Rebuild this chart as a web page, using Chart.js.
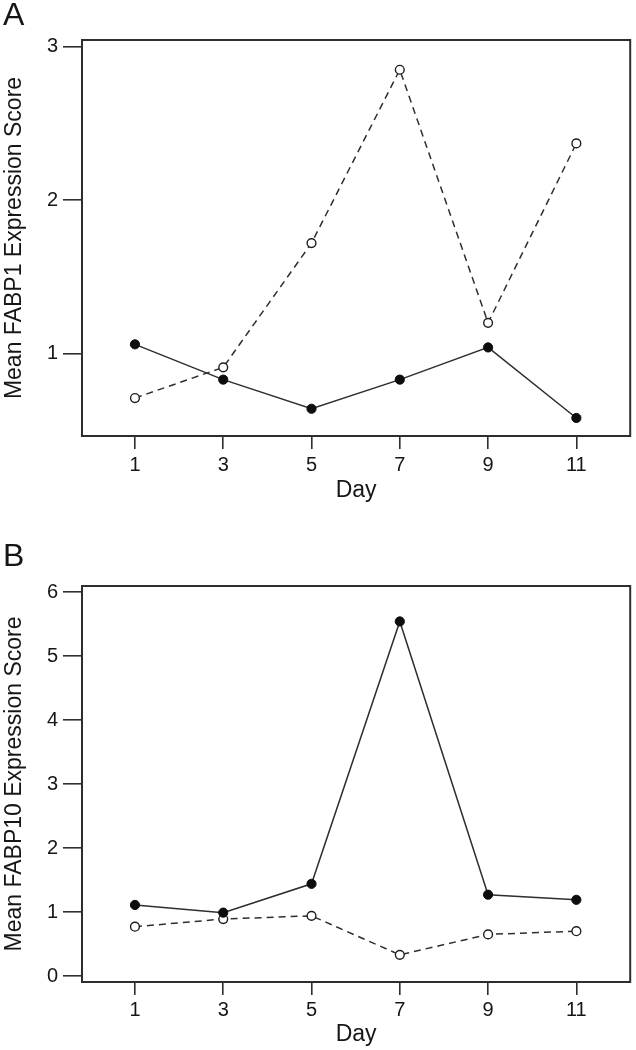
<!DOCTYPE html>
<html>
<head>
<meta charset="utf-8">
<script src="https://cdn.jsdelivr.net/npm/chart.js@4.4.1/dist/chart.umd.min.js"></script>
<style>
  body { margin: 0; background: #fff; }
  canvas { display: block; }
</style>
</head>
<body>
<canvas id="chartA" width="636" height="525"></canvas>
<canvas id="chartB" width="636" height="525"></canvas>
<script>
// Data
const days = [1, 3, 5, 7, 9, 11];
const fabp1Filled = [1.06, 0.83, 0.64, 0.83, 1.04, 0.58];
const fabp1Open = [0.71, 0.91, 1.72, 2.85, 1.20, 2.37];
const fabp10Filled = [1.11, 0.99, 1.44, 5.54, 1.27, 1.19];
const fabp10Open = [0.77, 0.89, 0.94, 0.33, 0.65, 0.70];
const yTicksA = [1, 2, 3];
const yTicksB = [0, 1, 2, 3, 4, 5, 6];

const FONT = "'Liberation Sans', Arial, sans-serif";
const INK = '#161616';
const LINE = '#2e2e2e';

// draws the box round the plot area (R style)
const boxPlugin = {
  id: 'box',
  beforeDatasetsDraw(chart) {
    const { ctx, chartArea: a } = chart;
    ctx.save();
    ctx.strokeStyle = LINE;
    ctx.lineWidth = 2;
    ctx.strokeRect(a.left, a.top, a.right - a.left, a.bottom - a.top);
    ctx.restore();
  }
};

const toPoints = (vals) => days.map((d, i) => ({ x: d, y: vals[i] }));

const makeChart = (id, cfg) => {
  const ctx = document.getElementById(id).getContext('2d');
  return new Chart(ctx, {
    type: 'line',
    data: {
      datasets: [{
        label: 'filled',
        data: toPoints(cfg.filled),
        borderColor: LINE,
        borderWidth: 1.5,
        pointRadius: 4.6,
        pointBackgroundColor: '#0d0d0d',
        pointBorderColor: '#0d0d0d',
        pointBorderWidth: 1,
        tension: 0
      }, {
        label: 'open',
        data: toPoints(cfg.open),
        borderColor: LINE,
        borderWidth: 1.5,
        borderDash: [7, 5],
        pointRadius: 4.4,
        pointBackgroundColor: '#fff',
        pointBorderColor: '#1e1e1e',
        pointBorderWidth: 1.4,
        tension: 0
      }]
    },
    options: {
      responsive: false,
      animation: false,
      devicePixelRatio: 1,
      layout: { padding: { left: 3, right: 2, top: 0, bottom: 0 } },
      plugins: {
        legend: { display: false },
        tooltip: { enabled: false },
        title: {
          display: true,
          text: cfg.letter,
          align: 'start',
          color: INK,
          font: { family: FONT, size: 32, weight: 'normal', lineHeight: 1 },
          padding: cfg.letterPad
        }
      },
      scales: {
        x: {
          type: 'linear',
          min: -0.2,
          max: 12.22,
          afterBuildTicks: (s) => { s.ticks = days.map(v => ({ value: v })); },
          afterFit: (s) => { s.height = cfg.xAxisHeight; },
          ticks: { color: INK, font: { family: FONT, size: 20 }, padding: cfg.xTickPad, maxRotation: 0, autoSkip: false },
          grid: { drawOnChartArea: false, drawTicks: true, tickLength: 13, color: LINE, lineWidth: 1.6 },
          border: { display: false },
          title: {
            display: true,
            text: 'Day',
            color: INK,
            font: { family: FONT, size: 23, lineHeight: 1 },
            padding: { top: 0, bottom: cfg.dayPad }
          }
        },
        y: {
          min: cfg.yMin,
          max: cfg.yMax,
          afterBuildTicks: (s) => { s.ticks = cfg.yTicks.map(v => ({ value: v })); },
          afterFit: (s) => { s.width = 79; },
          ticks: { color: INK, font: { family: FONT, size: 20 }, padding: 5 },
          grid: { drawOnChartArea: false, drawTicks: true, tickLength: 19, color: LINE, lineWidth: 1.6 },
          border: { display: false },
          title: {
            display: true,
            text: cfg.yLabel,
            color: INK,
            font: { family: FONT, size: 23, lineHeight: 1 },
            padding: 0
          }
        }
      }
    },
    plugins: [boxPlugin]
  });
};

makeChart('chartA', {
  letter: 'A',
  letterPad: { top: 0, bottom: 8 },
  yLabel: 'Mean FABP1 Expression Score',
  filled: fabp1Filled,
  open: fabp1Open,
  yMin: 0.4625,
  yMax: 3.044,
  yTicks: yTicksA,
  xAxisHeight: 89,
  xTickPad: 4.5,
  dayPad: 23
});

makeChart('chartB', {
  letter: 'B',
  letterPad: { top: 16.5, bottom: 12.5 },
  yLabel: 'Mean FABP10 Expression Score',
  filled: fabp10Filled,
  open: fabp10Open,
  yMin: -0.094,
  yMax: 6.094,
  yTicks: yTicksB,
  xAxisHeight: 68,
  xTickPad: 3,
  dayPad: 4
});
</script>
</body>
</html>
